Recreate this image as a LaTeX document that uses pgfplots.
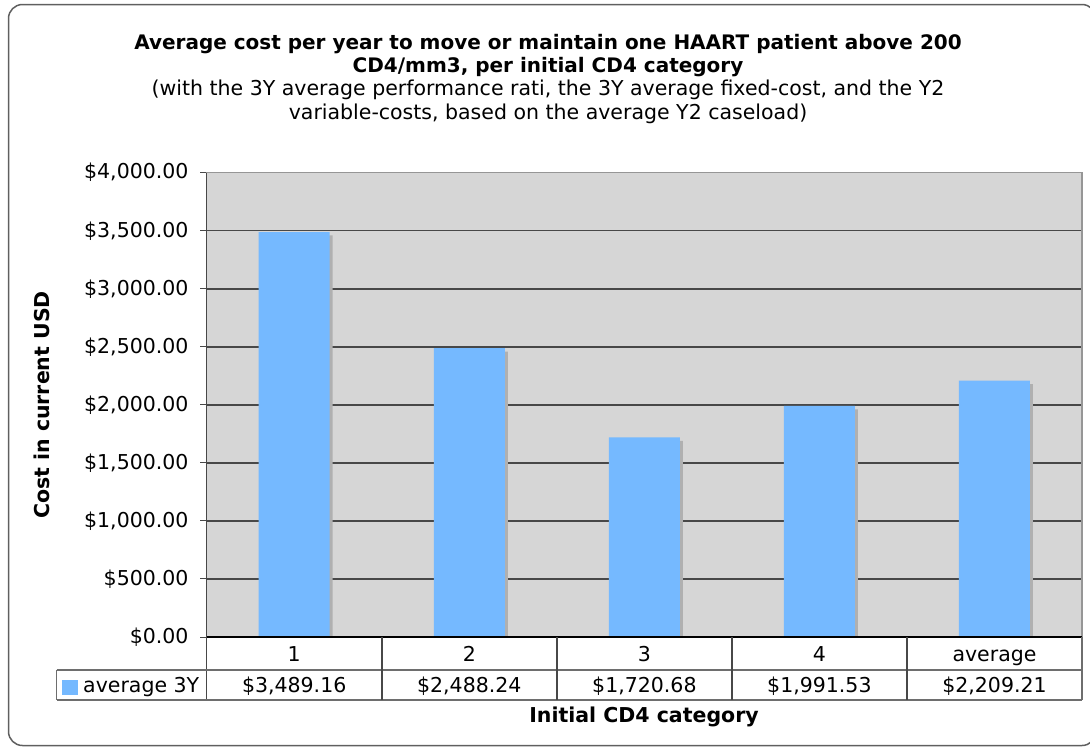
\documentclass[border=0pt]{standalone}
\usepackage{fontspec}
\setmainfont{DejaVu Sans}
\usepackage{pgfplots}
\pgfplotsset{compat=1.18}
\definecolor{barblue}{RGB}{117,185,255}
\definecolor{plotbg}{RGB}{214,214,214}
\definecolor{shadowgray}{RGB}{176,176,176}
\definecolor{gridc}{RGB}{72,72,72}
\definecolor{borderc}{RGB}{150,150,150}
\definecolor{tablec}{RGB}{110,110,110}
\definecolor{framec}{RGB}{95,95,95}
\newcommand\fs{\fontsize{20.5}{23.5}\selectfont}
\newcommand\fst{\fontsize{20}{23}\selectfont}
\begin{document}
\begin{tikzpicture}
\useasboundingbox (0pt,0pt) rectangle (1090pt,-747pt);
\draw[framec, line width=1.5pt, rounded corners=14pt] (8.5pt,-4.5pt) rectangle (1096pt,-745.5pt);
\node[align=center, font=\fst\bfseries, inner sep=0pt] at (548pt,-56pt) {Average cost per year to move or maintain one HAART patient above 200\\CD4/mm3, per initial CD4 category};
\node[align=center, font=\fs, inner sep=0pt] at (548pt,-102pt) {(with the 3Y average performance rati, the 3Y average fixed-cost, and the Y2\\variable-costs, based on the average Y2 caseload)};
\begin{axis}[
  at={(206.7pt,-637pt)}, anchor=south west,
  scale only axis, width=875.3pt, height=464.3pt,
  xmin=-0.5, xmax=4.5, ymin=0, ymax=4000,
  ybar, bar width=71pt,
  axis background/.style={fill=plotbg},
  axis line style={draw=borderc, line width=1.5pt},
  ytick={0,500,1000,1500,2000,2500,3000,3500,4000},
  yticklabels={\$0.00,\$500.00,{\$1,000.00},{\$1,500.00},{\$2,000.00},{\$2,500.00},{\$3,000.00},{\$3,500.00},{\$4,000.00}},
  ytick pos=left,
  ymajorgrids, grid style={gridc, line width=1.5pt},
  xtick={0,1,2,3,4}, xticklabels={1,2,3,4,average},
  xticklabel style={anchor=base, yshift=-18pt},
  major x tick style={draw=none},
  major y tick style={gridc, line width=1pt},
  tick align=outside, major tick length=6.5pt,
  yticklabel style={anchor=east, inner sep=0pt, xshift=-11.5pt},
  tick label style={font=\fs},
  /pgf/number format/assume math mode=true,
]
\addplot[fill=shadowgray, draw=none, bar shift=3pt, y filter/.expression={y-30}] coordinates {(0,3489.16) (1,2488.24) (2,1720.68) (3,1991.53) (4,2209.21)};
\addplot[fill=barblue, draw=none, bar shift=0pt] coordinates {(0,3489.16) (1,2488.24) (2,1720.68) (3,1991.53) (4,2209.21)};
\end{axis}
% axis left & bottom lines, data table
\draw[black, line width=1.5pt] (206.7pt,-637pt) -- (1082pt,-637pt);
\draw[gridc, line width=1.5pt] (206.7pt,-172.7pt) -- (206.7pt,-700pt);
\draw[tablec, line width=1.5pt] (56.7pt,-670pt) -- (1082pt,-670pt);
\draw[tablec, line width=1.5pt] (56.7pt,-700pt) -- (1082pt,-700pt);
\draw[tablec, line width=1.5pt] (56.7pt,-670pt) -- (56.7pt,-700pt);
\foreach \xx in {381.8,556.9,731.9,907}{\draw[gridc, line width=1.5pt] (\xx pt,-637pt) -- (\xx pt,-700pt);}
\draw[tablec, line width=1.5pt] (1082pt,-637pt) -- (1082pt,-700pt);
\fill[barblue] (62pt,-680pt) rectangle (78pt,-695pt);
\node[anchor=base west, font=\fs, inner sep=0pt] at (83pt,-692.5pt) {average 3Y};
\foreach \xx/\tt in {294.2/{\$3,489.16},469.3/{\$2,488.24},644.4/{\$1,720.68},819.4/{\$1,991.53},994.5/{\$2,209.21}}{\node[anchor=base, font=\fs, inner sep=0pt] at (\xx pt,-692pt) {\tt};}
\node[rotate=90, font=\fs\bfseries, inner sep=0pt] at (42pt,-405pt) {Cost in current USD};
\node[font=\fs\bfseries, inner sep=0pt] at (644pt,-717pt) {Initial CD4 category};
\end{tikzpicture}
\end{document}
